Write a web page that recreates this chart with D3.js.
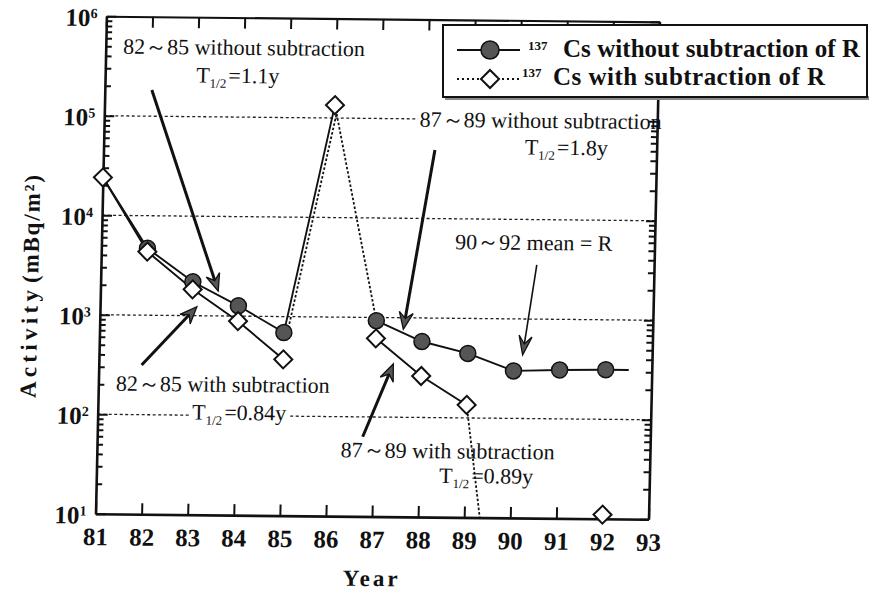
<!DOCTYPE html>
<html>
<head>
<meta charset="utf-8">
<script src="https://cdn.jsdelivr.net/npm/d3@7"></script>
</head>
<body style="margin:0; background:#fff">
<svg id="chart" width="871" height="594" style="display:block"></svg>
<script>
// measurement years
const years = [81, 82, 83, 84, 85, 86, 87, 88, 89, 90, 91, 92];
// 137Cs without subtraction of R (mBq/m2)
const csRaw = [24000, 4700, 2190, 1270, 690, 135000, 930, 580, 445, 300, 310, 315];
// 137Cs with subtraction of R (mBq/m2); 90 falls below the axis
const csSubYears = [81, 82, 83, 84, 85, 86, 87, 88, 89, 90, 92];
const csSub = [24000, 4350, 1840, 890, 372, 135000, 618, 261, 135, 0.06, 11];
const tailYear = 92.5;

const xTicks = [81, 82, 83, 84, 85, 86, 87, 88, 89, 90, 91, 92, 93];
const decades = [1e1, 1e2, 1e3, 1e4, 1e5, 1e6];
const gridValues = [1e2, 1e3, 1e4, 1e5];

// annotations: text, anchor year/value, half-life line, arrow from -> to
const notes = [
  { text: "82～85 without subtraction", year: 84.0, value: 4.22e5, half: "1.1y", hYear: 83.88, hValue: 2.2e5,
    from: [82.02, 1.83e5], to: [83.556, 1780], thick: true },
  { text: "87～89 without subtraction", year: 90.47, value: 8.34e4, half: "1.8y", hYear: 91.04, hValue: 4.49e4,
    from: [88.19, 4.89e4], to: [87.59, 766], thick: true },
  { text: "90～92 mean = R", year: 90.38, value: 4940, half: null,
    from: [90.455, 3500], to: [90.19, 435], thick: false },
  { text: "82～85 with subtraction", year: 83.70, value: 173, half: "0.84y", hYear: 84.07, hValue: 90.4,
    from: [81.93, 315], to: [83.10, 1230], thick: true },
  { text: "87～89 with subtraction", year: 88.61, value: 39.1, half: "0.89y", hYear: 89.46, hValue: 22.1,
    from: [86.76, 63.2], to: [87.39, 343], thick: true }
];

const SERIF = '"Liberation Serif", "Times New Roman", serif';

function lab(sel, size) {
  return sel.style("font-family", SERIF).style("font-weight", "bold")
    .style("font-size", size + "px").style("fill", "#111");
}
function note(sel) {
  return sel.style("font-family", SERIF).style("font-size", "22px").style("fill", "#111");
}

const svg = d3.select("#chart");
const plotLeft = 101, plotRight = 654, plotTop = 19, plotBottom = 516.5;

const x = d3.scaleLinear().domain([81, 93]).range([plotLeft, plotRight]);
const y = d3.scaleLog().domain([10, 1e6]).range([plotBottom, plotTop]);

// the scanned figure is slightly skewed
const g = svg.append("g")
  .attr("transform", "translate(377,267) matrix(1,0.010,-0.022,1,0,0) translate(-377,-267)");

g.append("clipPath").attr("id", "plotclip")
  .append("rect")
  .attr("x", plotLeft).attr("y", plotTop)
  .attr("width", plotRight - plotLeft).attr("height", plotBottom - plotTop);

const gridLayer = g.append("g");
const bgLayer = g.append("g");
const axisLayer = g.append("g");
const lineLayer = g.append("g").attr("clip-path", "url(#plotclip)");
const arrowLayer = g.append("g");
const markLayer = g.append("g");
const textLayer = g.append("g");

// dotted grid lines
gridLayer.selectAll("line").data(gridValues).join("line")
  .attr("x1", plotLeft).attr("x2", plotRight)
  .attr("y1", d => y(d)).attr("y2", d => y(d))
  .attr("stroke", "#222").attr("stroke-width", 1.3)
  .attr("stroke-dasharray", "3,2.5");

// axes
function styleAxis(sel, w) {
  sel.select(".domain").attr("stroke", "#111").attr("stroke-width", w);
  sel.selectAll(".tick line").attr("stroke", "#111").attr("stroke-width", 2);
}

const minors = [];
decades.slice(0, -1).forEach(d => { for (let k = 2; k <= 9; k++) minors.push(d * k); });

const bottomAx = axisLayer.append("g").attr("transform", `translate(0,${plotBottom})`)
  .call(d3.axisBottom(x).tickValues(xTicks).tickSize(-11).tickSizeOuter(0).tickFormat(d3.format("d")));
styleAxis(bottomAx, 2.6);
lab(bottomAx.selectAll("text"), 25).attr("y", 31.5).attr("dy", null);

const topAx = axisLayer.append("g").attr("transform", `translate(0,${plotTop})`)
  .call(d3.axisTop(x).tickValues(xTicks).tickSize(-11).tickSizeOuter(0).tickFormat(""));
styleAxis(topAx, 2.2);

const leftAx = axisLayer.append("g").attr("transform", `translate(${plotLeft},0)`)
  .call(d3.axisLeft(y).tickValues(decades).tickSize(-10).tickSizeOuter(0).tickFormat(""));
styleAxis(leftAx, 2.6);
const leftMinor = axisLayer.append("g").attr("transform", `translate(${plotLeft},0)`)
  .call(d3.axisLeft(y).tickValues(minors).tickSize(-6).tickSizeOuter(0).tickFormat(""));
styleAxis(leftMinor, 0);

const rightAx = axisLayer.append("g").attr("transform", `translate(${plotRight},0)`)
  .call(d3.axisRight(y).tickValues(decades).tickSize(-9).tickSizeOuter(0).tickFormat(""));
styleAxis(rightAx, 2.6);
const rightMinor = axisLayer.append("g").attr("transform", `translate(${plotRight},0)`)
  .call(d3.axisRight(y).tickValues(minors).tickSize(-6).tickSizeOuter(0).tickFormat(""));
styleAxis(rightMinor, 0);

// y tick labels 10^n
decades.forEach(d => {
  const t = lab(axisLayer.append("text"), 25)
    .attr("x", plotLeft - 9).attr("y", y(d) + 10)
    .attr("text-anchor", "end");
  t.append("tspan").text("10");
  t.append("tspan").attr("dy", -8).style("font-size", "14px").text(Math.round(Math.log10(d)));
});

// axis titles
lab(axisLayer.append("text"), 23)
  .attr("x", 377).attr("y", 586)
  .attr("text-anchor", "middle")
  .attr("textLength", 55).attr("lengthAdjust", "spacing")
  .text("Year");

lab(axisLayer.append("text"), 23)
  .attr("transform", "translate(38.5,347.5) rotate(-90)")
  .attr("text-anchor", "middle")
  .attr("textLength", 108).attr("lengthAdjust", "spacing")
  .text("Activity");
lab(axisLayer.append("text"), 23)
  .attr("transform", "translate(38.5,232.5) rotate(-90)")
  .attr("text-anchor", "middle")
  .attr("textLength", 108).attr("lengthAdjust", "spacing")
  .text("(mBq/m²)");

// data lines
const line = d3.line().x(d => x(d.year)).y(d => y(d.value));
const rawPts = years.map((yr, i) => ({ year: yr, value: csRaw[i] }));
const subPts = csSubYears.map((yr, i) => ({ year: yr, value: csSub[i] }));
const lastRaw = rawPts[rawPts.length - 1];

function drawLine(pts, dotted, shift) {
  lineLayer.append("path")
    .attr("d", line(pts))
    .attr("fill", "none").attr("stroke", "#111")
    .attr("stroke-width", dotted ? 1.8 : 1.9)
    .attr("stroke-dasharray", dotted ? "2.5,2" : null)
    .attr("transform", shift ? `translate(${shift},0)` : null);
}

drawLine(rawPts.filter(d => d.year <= 86), false);
drawLine(rawPts.filter(d => d.year >= 85 && d.year <= 86), true, 3.5);
drawLine(rawPts.filter(d => d.year >= 86 && d.year <= 87), true);
drawLine(rawPts.filter(d => d.year >= 87).concat([{ year: tailYear, value: lastRaw.value }]), false);

drawLine(subPts.filter(d => d.year <= 85), false);
drawLine(subPts.filter(d => d.year >= 87 && d.year <= 89), false);
drawLine(subPts.filter(d => d.year >= 89 && d.year <= 90), true);

// markers: circles hidden where the diamond sits on the same value
const subMap = new Map(subPts.map(d => [d.year, d.value]));
markLayer.selectAll("circle")
  .data(rawPts.filter(d => subMap.get(d.year) !== d.value))
  .join("circle")
  .attr("cx", d => x(d.year)).attr("cy", d => y(d.value)).attr("r", 8)
  .attr("fill", "#555").attr("stroke", "#111").attr("stroke-width", 1.5);

const diamond = d3.symbol().type(d3.symbolSquare).size(162);
markLayer.selectAll("path.dia")
  .data(subPts.filter(d => d.value >= 10))
  .join("path").attr("class", "dia")
  .attr("d", diamond)
  .attr("transform", d => `translate(${x(d.year)},${y(d.value)}) rotate(45)`)
  .attr("fill", "#fff").attr("stroke", "#111").attr("stroke-width", 2);

// annotations
function addBg(node) {
  const b = node.getBBox();
  bgLayer.append("rect")
    .attr("x", b.x - 2).attr("y", b.y + 2)
    .attr("width", b.width + 4).attr("height", b.height - 4)
    .attr("fill", "#fff");
}

notes.forEach(n => {
  const t = note(textLayer.append("text"))
    .attr("x", x(n.year)).attr("y", y(n.value))
    .attr("text-anchor", "middle").text(n.text);
  addBg(t.node());
  if (n.half) {
    const h = note(textLayer.append("text"))
      .attr("x", x(n.hYear)).attr("y", y(n.hValue))
      .attr("text-anchor", "middle");
    h.append("tspan").text("T");
    h.append("tspan").style("font-size", "13px").attr("dy", 5).text("1/2");
    h.append("tspan").attr("dy", -5).attr("dx", 2).text("=" + n.half);
    addBg(h.node());
  }
  const from = [x(n.from[0]), y(n.from[1])];
  const tip = [x(n.to[0]), y(n.to[1])];
  const ang = Math.atan2(tip[1] - from[1], tip[0] - from[0]);
  const c = Math.cos(ang), s = Math.sin(ang);
  const P = (a, b) => [tip[0] - a * c - b * s, tip[1] - a * s + b * c];
  const len = n.thick ? 17 : 19, half = n.thick ? 7 : 6.5, notch = 11;
  arrowLayer.append("line")
    .attr("x1", from[0]).attr("y1", from[1])
    .attr("x2", P(notch, 0)[0]).attr("y2", P(notch, 0)[1])
    .attr("stroke", "#111").attr("stroke-width", n.thick ? 3 : 1.6);
  arrowLayer.append("path")
    .attr("d", "M" + [tip, P(len, half), P(notch, 0), P(len, -half)].map(p => p.join(",")).join("L") + "Z")
    .attr("fill", "#555").attr("stroke", "#111").attr("stroke-width", 1.3);
});

// legend (not skewed)
const leg = svg.append("g");
leg.append("rect").attr("x", 445).attr("y", 96).attr("width", 424).attr("height", 4).attr("fill", "#888");
leg.append("rect").attr("x", 443).attr("y", 25).attr("width", 424).attr("height", 72)
  .attr("fill", "#fff").attr("stroke", "#111").attr("stroke-width", 2);

leg.append("line").attr("x1", 457).attr("x2", 520).attr("y1", 50).attr("y2", 50)
  .attr("stroke", "#111").attr("stroke-width", 2);
leg.append("circle").attr("cx", 490).attr("cy", 50).attr("r", 9)
  .attr("fill", "#555").attr("stroke", "#111").attr("stroke-width", 1.5);
lab(leg.append("text"), 13).attr("x", 528).attr("y", 50).text("137");
lab(leg.append("text"), 25).attr("x", 563).attr("y", 57)
  .attr("textLength", 297).attr("lengthAdjust", "spacing").text("Cs without subtraction of R");

leg.append("line").attr("x1", 457).attr("x2", 522).attr("y1", 79).attr("y2", 79)
  .attr("stroke", "#111").attr("stroke-width", 2).attr("stroke-dasharray", "2,3");
leg.append("path").attr("d", diamond())
  .attr("transform", "translate(490,79) rotate(45)")
  .attr("fill", "#fff").attr("stroke", "#111").attr("stroke-width", 2);
lab(leg.append("text"), 13).attr("x", 522).attr("y", 77).text("137");
lab(leg.append("text"), 25).attr("x", 553).attr("y", 85)
  .attr("textLength", 272).attr("lengthAdjust", "spacing").text("Cs with subtraction of R");
</script>
</body>
</html>
